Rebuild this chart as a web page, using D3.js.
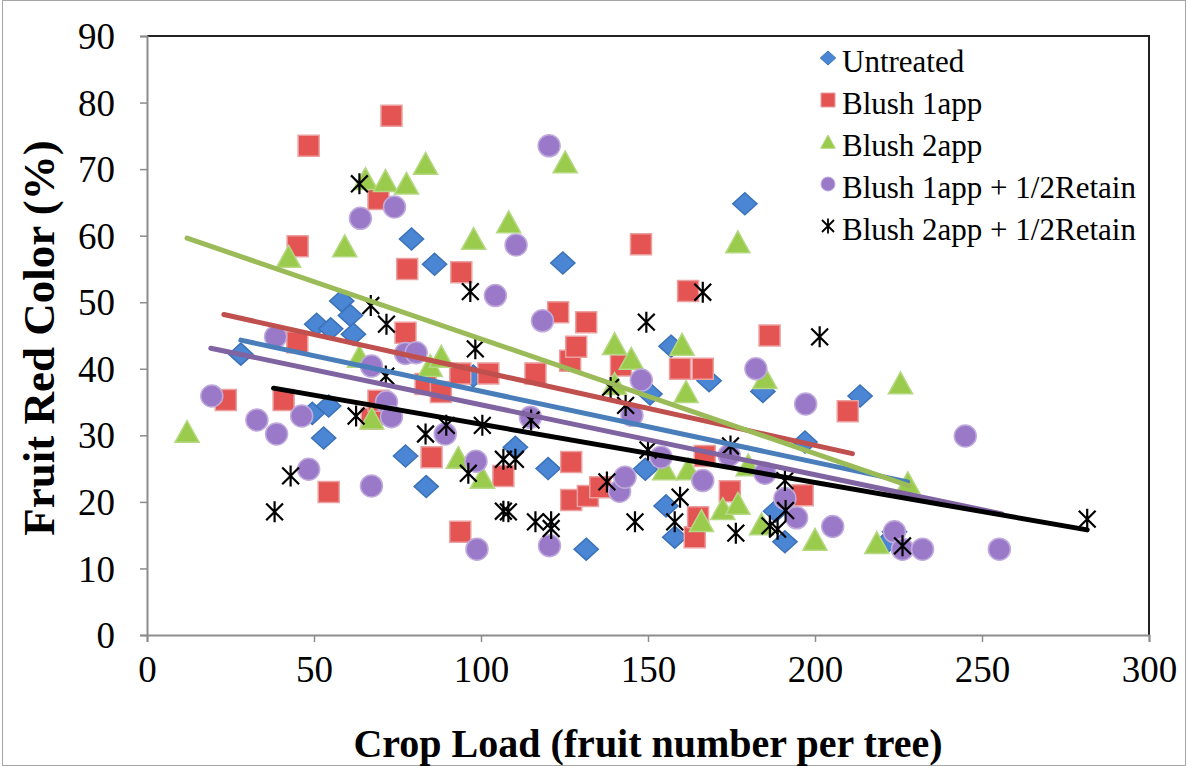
<!DOCTYPE html>
<html><head><meta charset="utf-8">
<script src="https://cdn.jsdelivr.net/npm/d3@7"></script>
<style>
html,body{margin:0;padding:0;background:#fff;}
text{font-family:"Liberation Serif","Times New Roman",serif;}
</style></head>
<body><svg id="c" width="1188" height="766"></svg>
<script>
// ---- data (x = crop load, y = fruit red color %) ----
const seriesNames = ["Untreated","Blush 1app","Blush 2app","Blush 1app + 1/2Retain","Blush 2app + 1/2Retain"];
const untreatedX = [28.1,49.5,50.8,52.9,54.4,55,58.3,60.9,61.8,77.4,79.2,83.6,86.1,97.7,110.3,120.1,124.5,131.5,149.2,150.6,155.4,156.9,158,168.3,179,184.4,188.2,191,197,213.5,221.7,223.8];
const untreatedY = [42.2,33.3,46.7,29.6,34.4,46,50.2,48,45.2,26.9,59.5,22.3,55.7,38.9,28.2,25,55.9,12.9,24.9,36.2,19.4,43.4,14.7,38.2,64.8,36.6,18.6,14,29,35.9,14,15.5];
const blush1X = [23.6,40.9,45,45.1,48.4,54.4,67.3,69.3,69.3,73.2,77.4,77.9,83.4,85.2,88,93.8,93.8,94.1,102.2,106.7,116.3,123.1,126.7,127,127,128.5,131.5,132,135.7,141.9,147.9,159.6,162,164,165,166.4,167,174.5,186.4,196.3,209.8];
const blush1Y = [35.3,35.3,44,58.4,73.5,21.5,32.5,35.2,65.5,78,45.4,55,37.7,26.7,36.5,39.3,15.5,54.5,39.3,23.9,39.3,48.5,41.2,26,20.3,43.3,47,20.9,22.2,40.5,58.7,40,51.7,14.7,17.7,40,26.9,21.6,45,21,33.6];
const blush2X = [12,42.4,59.2,63.6,65.4,67.3,71.4,77.7,83.4,84.8,88.1,93.2,97.8,100.4,108.3,125.2,140,140,145,155,160.2,161.4,162,166,172.4,176.9,176.9,180,184,185,200,218.5,225.6,227.8];
const blush2Y = [30.5,56.8,58.4,41.8,68.5,32.5,68.2,67.8,70.8,40.4,41.8,26.6,59.5,23.6,62,71,43.7,37.7,41.5,24.9,43.6,36.5,24.9,17.1,18.9,19.7,59,25.5,16.6,38.6,14.3,13.8,37.8,22.8];
const blush1RetX = [19.4,32.9,38.5,38.8,46.3,48.4,63.9,67.2,67.2,71.7,73.2,74.1,77.4,80.6,89.3,98.5,98.8,104.3,110.5,114.8,118.4,120.4,120.5,141.5,143.1,145.2,148,153.9,166.4,174.3,182.3,185,191,194.5,197.2,205.3,223.8,226.2,232.2,245,255.2];
const blush1RetY = [35.9,32.3,44.8,30.2,32.9,24.9,62.6,40.4,22.4,35,32.8,64.3,42.3,42.4,30.2,26.1,12.9,51,58.6,32.7,47.2,73.5,13.4,21.6,23.7,33,38.3,26.7,23.2,27,40,24.3,20.5,17.6,34.7,16.3,15.5,12.9,12.9,29.9,12.9];
const blush2RetX = [38.2,43,62.6,63.6,67,71.5,71.7,83.4,89.6,96.2,96.8,98.3,100.4,106.7,106.7,108.2,110.3,115,116.3,121,121,137.7,138.8,143.3,146.1,149.5,150,158,159.6,166.4,174.7,176.3,186.5,188.8,191,191.2,201.4,226.2,281.5];
const blush2RetY = [18.5,23.9,32.9,67.8,49.5,38.9,46.7,30.2,31.5,24.3,51.6,43,31.5,26.4,18.6,18.5,26.4,32.3,17,17,16,23,37.2,34.5,17,47,27.8,17,20.7,51.5,28.4,15.3,16.4,15.9,23.2,18.7,44.8,13.4,17.4];
// linear trend lines: y = slope*x + intercept over [x0, x1]
const trendSlope = [-0.1067,-0.111,-0.1722,-0.1051,-0.0874];
const trendIntercept = [47.3,50.7,61.7,45.1,40.4];
const trendX0 = [28.1,23.0,12.0,19.1,37.9];
const trendX1 = [227.7,211.2,228.0,256.0,281.5];
const xTicks = [0,50,100,150,200,250,300];
const yTicks = [0,10,20,30,40,50,60,70,80,90];
const xTitle = "Crop Load (fruit number per tree)";
const yTitle = "Fruit Red Color (%)";

const allX = [untreatedX,blush1X,blush2X,blush1RetX,blush2RetX];
const allY = [untreatedY,blush1Y,blush2Y,blush1RetY,blush2RetY];

// ---- styles ----
const fills   = ["#4A86D4","#E35452","#9BCB4C","#9A7AC8","none"];
const strokes = ["#3B72B8","#EBA09F","#B5D883","#C0ABDC","#000"];
const lineCols= ["#4A7EBB","#C0504D","#9BBB59","#8064A2","#000000"];

const svg = d3.select("#c");
const L=147,R=1149,T=36,B=635;
const x = d3.scaleLinear().domain([0,300]).range([L,R]);
const y = d3.scaleLinear().domain([0,90]).range([B,T]);

// outer frame
svg.append("rect").attr("x",2.5).attr("y",0.5).attr("width",1183).attr("height",765)
  .attr("fill","none").attr("stroke","#a6a6a6").attr("stroke-width",1);

// plot border top/right
svg.append("path").attr("d",`M${L},${T}H${R}V${B}`).attr("fill","none").attr("stroke","#222").attr("stroke-width",2);

// axes
const gx = svg.append("g").attr("transform",`translate(0,${B})`)
  .call(d3.axisBottom(x).tickValues(xTicks).tickSize(7).tickPadding(14).tickFormat(d3.format("d")));
const gy = svg.append("g").attr("transform",`translate(${L},0)`)
  .call(d3.axisLeft(y).tickValues(yTicks).tickSize(7).tickPadding(25).tickFormat(d3.format("d")));
[gx,gy].forEach(g=>{
  g.select(".domain").attr("stroke","#8c8c8c").attr("stroke-width",2);
  g.selectAll(".tick line").attr("stroke","#8c8c8c").attr("stroke-width",1.5);
  g.selectAll(".tick text").attr("fill","#000").style("font-size","37px").style("font-family","'Liberation Serif',serif");
});
gx.selectAll(".tick text").attr("dy","0.71em");
gy.selectAll(".tick text").attr("dy","0.34em");

// titles
svg.append("text").attr("x",(L+R)/2).attr("y",757).attr("text-anchor","middle")
  .style("font-size","40px").style("font-weight","bold").text(xTitle);
svg.append("text").attr("transform","translate(54,338) rotate(-90)").attr("text-anchor","middle")
  .style("font-size","45px").style("font-weight","bold").text(yTitle);

// marker shapes
const diamond = {draw(c,s){const r=Math.sqrt(s)/2; c.moveTo(0,-r); c.lineTo(r*1.1,0); c.lineTo(0,r); c.lineTo(-r*1.1,0); c.closePath();}};
const square  = {draw(c,s){const r=Math.sqrt(s)/2; c.rect(-r,-r,2*r,2*r);}};
const tri     = {draw(c,s){const r=Math.sqrt(s)/2; c.moveTo(0,-r); c.lineTo(r*1.05,r*0.9); c.lineTo(-r*1.05,r*0.9); c.closePath();}};
const circle  = {draw(c,s){const r=Math.sqrt(s)/2; c.moveTo(r,0); c.arc(0,0,r,0,2*Math.PI);}};
const aster   = {draw(c,s){const r=Math.sqrt(s)/2; c.moveTo(0,-r); c.lineTo(0,r); c.moveTo(-r*0.8,-r*0.8); c.lineTo(r*0.8,r*0.8); c.moveTo(r*0.8,-r*0.8); c.lineTo(-r*0.8,r*0.8);}};
const shapes = [diamond,square,tri,circle,aster];
const sizes = [22*22,21*21,23*23,22*22,21*21];

const plot = svg.append("g");
allX.forEach((xs,i)=>{
  const pts = xs.map((v,j)=>[v,allY[i][j]]);
  plot.append("g").selectAll("path").data(pts).join("path")
    .attr("transform",d=>`translate(${x(d[0])},${y(d[1])})`)
    .attr("d",d3.symbol().type(shapes[i]).size(sizes[i]))
    .attr("fill",fills[i]).attr("stroke",strokes[i]).attr("stroke-width",i===4?2.2:1.5);
});

// trend lines
const line = d3.line().x(d=>x(d[0])).y(d=>y(d[1]));
trendSlope.forEach((m,i)=>{
  const b = trendIntercept[i];
  const pts = [[trendX0[i], m*trendX0[i]+b],[trendX1[i], m*trendX1[i]+b]];
  plot.append("path").attr("d",line(pts)).attr("stroke",lineCols[i]).attr("stroke-width",5)
    .attr("stroke-linecap","round").attr("fill","none");
});

// legend
const legY = [62,104,146,188,230];
const lg = svg.append("g");
seriesNames.forEach((n,i)=>{
  lg.append("path").attr("transform",`translate(828,${legY[i]-4})`)
    .attr("d",d3.symbol().type(shapes[i]).size(i===4?15*15:14*14))
    .attr("fill",fills[i]).attr("stroke",strokes[i]).attr("stroke-width",i===4?1.8:1);
  lg.append("text").attr("x",842).attr("y",legY[i]+10).style("font-size","31px").text(n);
});
</script></body></html>
